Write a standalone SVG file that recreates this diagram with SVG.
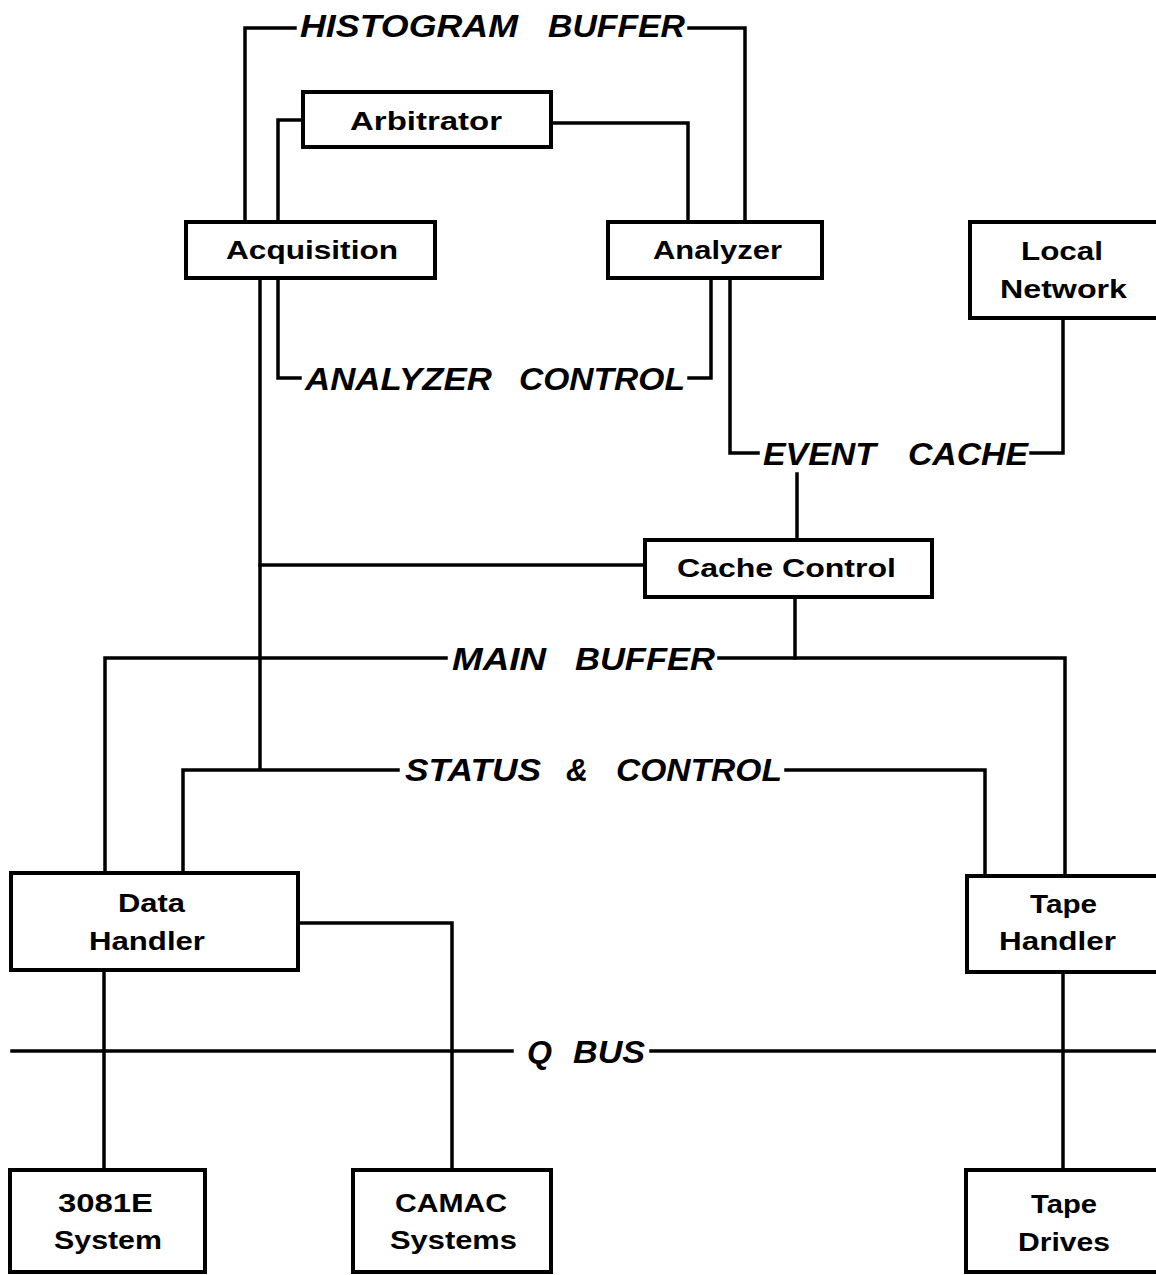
<svg xmlns="http://www.w3.org/2000/svg" width="1156" height="1275" viewBox="0 0 1156 1275">
<style>
.box{fill:#fff;stroke:#000;stroke-width:4}
.ln{fill:none;stroke:#000;stroke-width:3.5;stroke-linejoin:miter;stroke-linecap:square}
.t{font-family:"Liberation Sans",Arial,sans-serif;font-weight:bold;font-size:25px;fill:#000}
.b{font-family:"Liberation Sans",Arial,sans-serif;font-weight:bold;font-style:italic;font-size:31px;fill:#000}
</style>
<rect width="1156" height="1275" fill="#fff"/>
<g id="connectors">
<path class="ln" d="M245 222 V28 H295"/>
<path class="ln" d="M689 28 H745 V222"/>
<path class="ln" d="M303 120 H278 V222"/>
<path class="ln" d="M551 123 H688 V222"/>
<path class="ln" d="M278 278 V378 H300"/>
<path class="ln" d="M689 378 H711 V278"/>
<path class="ln" d="M260 278 V768"/>
<path class="ln" d="M730 278 V453 H758"/>
<path class="ln" d="M1031 453 H1063 V318"/>
<path class="ln" d="M797 474 V540"/>
<path class="ln" d="M260 565 H645"/>
<path class="ln" d="M795 597 V658"/>
<path class="ln" d="M105 873 V658 H446"/>
<path class="ln" d="M719 658 H1065 V876"/>
<path class="ln" d="M183 873 V770 H398"/>
<path class="ln" d="M786 770 H985 V876"/>
<path class="ln" d="M298 923 H452 V1170"/>
<path class="ln" d="M104 970 V1170"/>
<path class="ln" d="M1063 972 V1170"/>
<path class="ln" d="M12 1051 H512"/>
<path class="ln" d="M651 1051 H1156"/>
</g>
<g id="labels">
<text class="b" x="300" y="37" textLength="218" lengthAdjust="spacingAndGlyphs">HISTOGRAM</text>
<text class="b" x="548" y="37" textLength="137" lengthAdjust="spacingAndGlyphs">BUFFER</text>
<text class="b" x="305" y="390" textLength="187" lengthAdjust="spacingAndGlyphs">ANALYZER</text>
<text class="b" x="519" y="390" textLength="166" lengthAdjust="spacingAndGlyphs">CONTROL</text>
<text class="b" x="763" y="465" textLength="113" lengthAdjust="spacingAndGlyphs">EVENT</text>
<text class="b" x="908" y="465" textLength="120" lengthAdjust="spacingAndGlyphs">CACHE</text>
<text class="b" x="452" y="670" textLength="94" lengthAdjust="spacingAndGlyphs">MAIN</text>
<text class="b" x="575" y="670" textLength="140" lengthAdjust="spacingAndGlyphs">BUFFER</text>
<text class="b" x="405" y="781" textLength="136" lengthAdjust="spacingAndGlyphs">STATUS</text>
<text class="b" x="566" y="781" textLength="22" lengthAdjust="spacingAndGlyphs">&amp;</text>
<text class="b" x="616" y="781" textLength="166" lengthAdjust="spacingAndGlyphs">CONTROL</text>
<text class="b" x="527" y="1063" textLength="25" lengthAdjust="spacingAndGlyphs">Q</text>
<text class="b" x="573" y="1063" textLength="72" lengthAdjust="spacingAndGlyphs">BUS</text>
</g>
<g id="arbitrator"><rect class="box" x="303" y="92" width="248" height="55"/><text class="t" x="350" y="130" textLength="152" lengthAdjust="spacingAndGlyphs">Arbitrator</text></g>
<g id="acquisition"><rect class="box" x="186" y="222" width="249" height="56"/><text class="t" x="226" y="259" textLength="172" lengthAdjust="spacingAndGlyphs">Acquisition</text></g>
<g id="analyzer"><rect class="box" x="608" y="222" width="214" height="56"/><text class="t" x="653" y="259" textLength="129" lengthAdjust="spacingAndGlyphs">Analyzer</text></g>
<g id="local-network"><rect class="box" x="970" y="222" width="200" height="96"/><text class="t" x="1021" y="260" textLength="82" lengthAdjust="spacingAndGlyphs">Local</text><text class="t" x="1000" y="298" textLength="127" lengthAdjust="spacingAndGlyphs">Network</text></g>
<g id="cache-control"><rect class="box" x="645" y="540" width="287" height="57"/><text class="t" x="677" y="577" textLength="219" lengthAdjust="spacingAndGlyphs">Cache  Control</text></g>
<g id="data-handler"><rect class="box" x="11" y="873" width="287" height="97"/><text class="t" x="118" y="912" textLength="67" lengthAdjust="spacingAndGlyphs">Data</text><text class="t" x="89" y="950" textLength="116" lengthAdjust="spacingAndGlyphs">Handler</text></g>
<g id="tape-handler"><rect class="box" x="967" y="876" width="200" height="96"/><text class="t" x="1030" y="913" textLength="67" lengthAdjust="spacingAndGlyphs">Tape</text><text class="t" x="999" y="950" textLength="117" lengthAdjust="spacingAndGlyphs">Handler</text></g>
<g id="system-3081e"><rect class="box" x="10" y="1170" width="195" height="102"/><text class="t" x="58" y="1212" textLength="95" lengthAdjust="spacingAndGlyphs">3081E</text><text class="t" x="54" y="1249" textLength="108" lengthAdjust="spacingAndGlyphs">System</text></g>
<g id="camac-systems"><rect class="box" x="353" y="1170" width="198" height="102"/><text class="t" x="395" y="1212" textLength="112" lengthAdjust="spacingAndGlyphs">CAMAC</text><text class="t" x="390" y="1249" textLength="127" lengthAdjust="spacingAndGlyphs">Systems</text></g>
<g id="tape-drives"><rect class="box" x="966" y="1170" width="200" height="102"/><text class="t" x="1031" y="1213" textLength="66" lengthAdjust="spacingAndGlyphs">Tape</text><text class="t" x="1018" y="1251" textLength="92" lengthAdjust="spacingAndGlyphs">Drives</text></g>
</svg>
